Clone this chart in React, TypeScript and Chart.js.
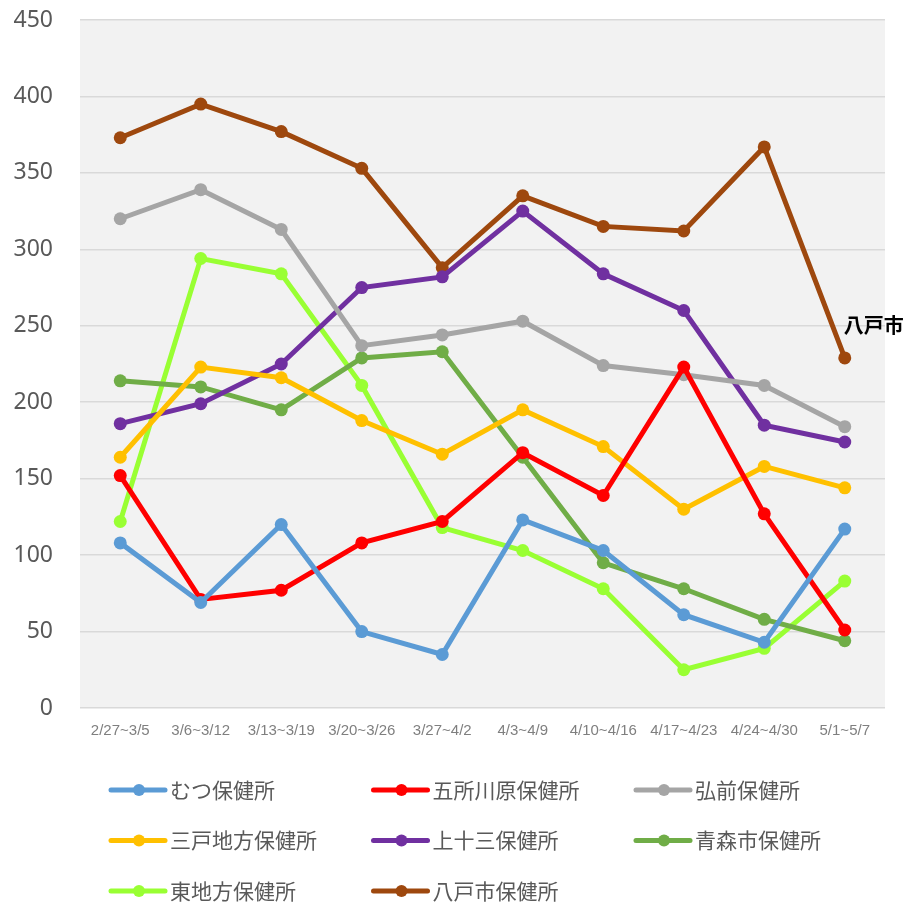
import React, { useEffect, useRef } from "react";
import { Chart, registerables } from "chart.js";

Chart.register(...registerables);

const categories = ["2/27~3/5", "3/6~3/12", "3/13~3/19", "3/20~3/26", "3/27~4/2", "4/3~4/9", "4/10~4/16", "4/17~4/23", "4/24~4/30", "5/1~5/7"];

const mutsu = [108, 69, 120, 50, 35, 123, 103, 61, 43, 117];
const goshogawara = [152, 71, 77, 108, 122, 167, 139, 223, 127, 51];
const hirosaki = [320, 339, 313, 237, 244, 253, 224, 218, 211, 184];
const sannohe = [164, 223, 216, 188, 166, 195, 171, 130, 158, 144];
const kamitosan = [186, 199, 225, 275, 282, 325, 284, 260, 185, 174];
const aomori = [214, 210, 195, 229, 233, 164, 95, 78, 58, 44];
const higashi = [122, 294, 284, 211, 118, 103, 78, 25, 39, 83];
const hachinohe = [373, 395, 377, 353, 288, 335, 315, 312, 367, 229];

const seriesNames = ["むつ保健所", "五所川原保健所", "弘前保健所", "三戸地方保健所", "上十三保健所", "青森市保健所", "東地方保健所", "八戸市保健所"];
const seriesColors = ["#5B9BD5", "#FF0000", "#A5A5A5", "#FFC000", "#7030A0", "#70AD47", "#99FF33", "#9E480E"];
const seriesValues = [mutsu, goshogawara, hirosaki, sannohe, kamitosan, aomori, higashi, hachinohe];

const yTicks = [0, 50, 100, 150, 200, 250, 300, 350, 400, 450];
const endLabel = "八戸市";

export default function App() {
  const ref = useRef<HTMLCanvasElement>(null);
  useEffect(() => {
    const bgPlugin = {
      id: "bg",
      beforeDraw(chart: any) {
        const { ctx, chartArea } = chart;
        ctx.save();
        ctx.fillStyle = "#F2F2F2";
        ctx.fillRect(chartArea.left, chartArea.top, chartArea.right - chartArea.left, chartArea.bottom - chartArea.top);
        ctx.restore();
      },
      afterDraw(chart: any) {
        const { ctx } = chart;
        const meta = chart.getDatasetMeta(7);
        const pt = meta.data[meta.data.length - 1];
        ctx.save();
        ctx.font = "bold 20px 'Noto Sans CJK JP'";
        ctx.fillStyle = "#000000";
        ctx.textAlign = "left";
        ctx.textBaseline = "middle";
        ctx.fillText(endLabel, pt.x - 1, pt.y - 32);
        chart.data.datasets.forEach((ds: any, i: number) => {
          const col = i % 3;
          const row = Math.floor(i / 3);
          const x0 = 111 + col * 262.5;
          const y = 790 + row * 50.5;
          ctx.strokeStyle = ds.borderColor;
          ctx.lineWidth = 5;
          ctx.lineCap = "round";
          ctx.beginPath();
          ctx.moveTo(x0, y);
          ctx.lineTo(x0 + 54, y);
          ctx.stroke();
          ctx.fillStyle = ds.borderColor;
          ctx.beginPath();
          ctx.arc(x0 + 28, y, 6, 0, Math.PI * 2);
          ctx.fill();
          ctx.fillStyle = "#595959";
          ctx.font = "21px 'Noto Sans CJK JP'";
          ctx.textAlign = "left";
          ctx.textBaseline = "middle";
          ctx.fillText(ds.label, x0 + 59, y);
        });
        ctx.restore();
      },
    };

    const chart = new Chart(ref.current!, {
      type: "line",
      data: {
        labels: categories,
        datasets: seriesValues.map((v, i) => ({
          label: seriesNames[i],
          data: v,
          borderColor: seriesColors[i],
          backgroundColor: seriesColors[i],
          borderWidth: 5,
          pointRadius: 6.5,
          pointHoverRadius: 6.5,
          pointBorderWidth: 0,
          tension: 0,
        })),
      },
      options: {
        animation: false,
        responsive: false,
        layout: { autoPadding: false, padding: { top: 20, right: 23, left: 0, bottom: 0 } },
        plugins: { legend: { display: false }, tooltip: { enabled: false } },
        scales: {
          x: {
            offset: true,
            grid: { display: false },
            border: { display: false },
            ticks: {
              color: "#7F7F7F",
              font: { family: "'Liberation Sans Narrow', 'Liberation Sans'", size: 15 },
              padding: 6,
              maxRotation: 0,
              autoSkip: false,
            },
            afterFit(scale: any) {
              scale.height = 194;
              scale.paddingLeft = 0;
              scale.paddingRight = 0;
            },
          },
          y: {
            min: 0,
            max: 450,
            afterBuildTicks(scale: any) {
              scale.ticks = yTicks.map((v) => ({ value: v }));
            },
            grid: { color: "#D9D9D9", lineWidth: 1.5, drawTicks: false },
            border: { display: false },
            ticks: {
              color: "#595959",
              font: { family: "'Noto Sans'", size: 23 },
              padding: 27,
            },
            afterFit(scale: any) {
              scale.width = 80;
              scale.paddingTop = 0;
              scale.paddingBottom = 0;
            },
          },
        },
      },
      plugins: [bgPlugin],
    });
    return () => chart.destroy();
  }, []);

  return (
    <div style={{ position: "fixed", left: 0, top: 0, width: 908, height: 902, background: "#fff" }}>
      <canvas ref={ref} width={908} height={902} style={{ width: 908, height: 902, display: "block" }} />
    </div>
  );
}
